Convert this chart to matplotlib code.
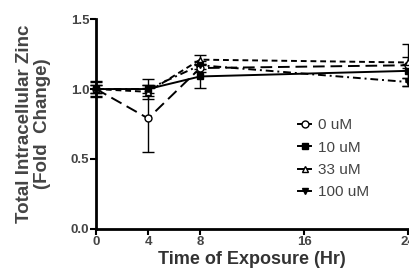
import matplotlib
matplotlib.use("Agg")
import matplotlib.pyplot as plt
from matplotlib.lines import Line2D

times = [0, 4, 8, 24]
labels = ["0 uM", "10 uM", "33 uM", "100 uM"]
v0 = [1.0, 0.79, 1.15, 1.17]
v10 = [1.0, 1.0, 1.09, 1.13]
v33 = [1.0, 0.98, 1.21, 1.19]
v100 = [1.0, 1.0, 1.17, 1.05]
e0 = [0.06, 0.24, 0.03, 0.15]
e10 = [0.05, 0.07, 0.08, 0.05]
e33 = [0.03, 0.03, 0.03, 0.04]
e100 = [0.03, 0.03, 0.03, 0.03]
xticks = [0, 4, 8, 16, 24]
yticks = [0.0, 0.5, 1.0, 1.5]

plt.rcParams['font.family'] = ['Liberation Sans', 'DejaVu Sans']
fig = plt.figure(figsize=(4.09, 2.69), dpi=100)
ax = fig.add_axes([0.235, 0.149, 0.763, 0.78])

series = [
    (v0, e0, 'o', 'white', (0, (6, 3))),
    (v10, e10, 's', 'black', '-'),
    (v33, e33, '^', 'white', (0, (3, 2))),
    (v100, e100, 'v', 'black', (0, (4, 2, 1, 2))),
]
handles = []
for (v, e, m, fc, ls), lab in zip(series, labels):
    ax.errorbar(times, v, yerr=e, marker=m, markersize=5, mfc=fc,
                mec='black', color='black', linestyle=ls, linewidth=1.4, capsize=4,
                elinewidth=1.0, capthick=1.0, clip_on=False)
    handles.append(Line2D([], [], marker=m, markersize=5, mfc=fc, mec='black',
                          color='black', linestyle='-', linewidth=1.4, label=lab))

ax.set_xlim(0, 24)
ax.set_ylim(0, 1.5)
ax.set_xticks(xticks)
ax.set_xticklabels([str(t) for t in xticks])
ax.set_yticks(yticks)
ax.set_yticklabels([f"{t:.1f}" for t in yticks])
for s in ['top', 'right']:
    ax.spines[s].set_visible(False)
for s in ['left', 'bottom']:
    ax.spines[s].set_linewidth(2)
ax.tick_params(direction='out', width=1.5, length=4, labelsize=9.5, colors='black',
               labelcolor='#444444', pad=1)
for t in ax.get_xticklabels() + ax.get_yticklabels():
    t.set_fontweight('bold')

ax.set_ylabel("Total Intracellular Zinc\n(Fold  Change)", fontsize=13.5, fontweight='bold',
              color='#444444', labelpad=14, linespacing=1.1)
ax.set_xlabel("Time of Exposure (Hr)", fontsize=13, fontweight='bold', color='#333333', labelpad=2.5)

leg = ax.legend(handles=handles, loc='lower right', bbox_to_anchor=(0.92, 0.075), frameon=False,
                fontsize=11, handlelength=0.8, labelspacing=0.55, handletextpad=0.5,
                labelcolor='#444444')

fig.savefig("out.png", dpi=100)
